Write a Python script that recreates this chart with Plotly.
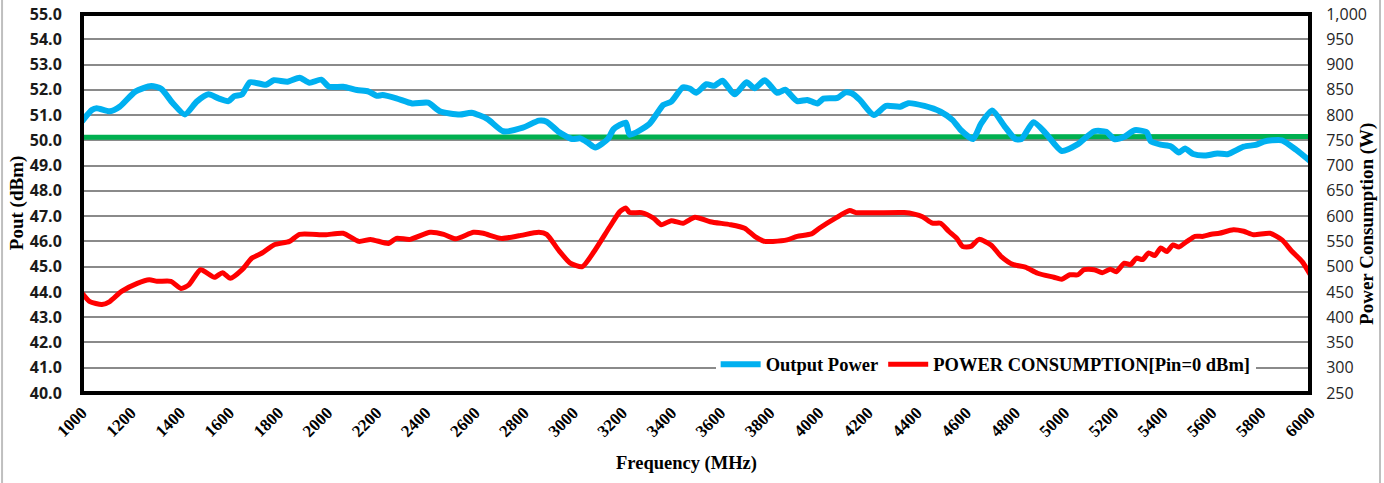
import plotly.graph_objects as go

# ---- data ----
freq_blue = [1000, 1040, 1060, 1113, 1153, 1217, 1282, 1322, 1370, 1419, 1467, 1515, 1556, 1596, 1620, 1652,
             1684, 1749, 1781, 1837, 1886, 1926, 1974, 2006, 2063, 2119, 2167, 2200, 2224, 2280, 2344, 2409,
             2457, 2538, 2586, 2650, 2715, 2795, 2860, 2892, 2940, 2996, 3029, 3061, 3090, 3141, 3165, 3214,
             3230, 3310, 3367, 3399, 3447, 3476, 3501, 3542, 3575, 3608, 3657, 3706, 3739, 3780, 3830, 3863,
             3912, 3953, 3994, 4019, 4076, 4109, 4134, 4167, 4224, 4274, 4331, 4364, 4430, 4496, 4545, 4578,
             4628, 4660, 4706, 4759, 4800, 4825, 4874, 4924, 4989, 5055, 5121, 5170, 5203, 5244, 5286, 5335,
             5351, 5392, 5434, 5466, 5491, 5524, 5573, 5623, 5664, 5730, 5779, 5812, 5845, 5886, 5944, 6000]
pout_dbm = [50.75, 51.20, 51.27, 51.15, 51.33, 51.93, 52.15, 52.04, 51.47, 51.02, 51.53, 51.82, 51.66, 51.55, 51.75, 51.82,
            52.30, 52.20, 52.38, 52.32, 52.48, 52.28, 52.40, 52.12, 52.12, 51.99, 51.93, 51.76, 51.79, 51.66, 51.46, 51.49,
            51.15, 51.02, 51.09, 50.85, 50.36, 50.50, 50.78, 50.74, 50.34, 50.05, 50.08, 49.90, 49.72, 50.05, 50.45, 50.70,
            50.22, 50.65, 51.40, 51.53, 52.10, 52.04, 51.88, 52.22, 52.16, 52.36, 51.82, 52.30, 52.06, 52.38, 51.88, 52.00,
            51.55, 51.60, 51.46, 51.65, 51.68, 51.90, 51.86, 51.60, 51.00, 51.36, 51.33, 51.47, 51.36, 51.13, 50.80, 50.41,
            50.05, 50.65, 51.18, 50.52, 50.05, 50.05, 50.72, 50.28, 49.58, 49.85, 50.36, 50.34, 50.05, 50.14, 50.40, 50.32,
            49.97, 49.83, 49.76, 49.52, 49.68, 49.46, 49.40, 49.48, 49.45, 49.75, 49.82, 49.95, 50.00, 50.00, 49.62, 49.18]

freq_red = [1000, 1032, 1081, 1113, 1161, 1225, 1274, 1306, 1362, 1403, 1435, 1483, 1539, 1572, 1604, 1652,
            1692, 1733, 1781, 1845, 1886, 1990, 2063, 2127, 2175, 2248, 2280, 2336, 2417, 2473, 2522, 2594,
            2634, 2707, 2779, 2860, 2892, 2940, 2988, 3037, 3085, 3149, 3190, 3214, 3230, 3278, 3327, 3359,
            3399, 3447, 3496, 3558, 3640, 3698, 3739, 3780, 3813, 3871, 3912, 3970, 4002, 4068, 4126, 4150,
            4348, 4389, 4422, 4463, 4496, 4529, 4562, 4586, 4619, 4652, 4701, 4743, 4792, 4841, 4891, 4957,
            4989, 5022, 5055, 5080, 5121, 5154, 5187, 5211, 5244, 5269, 5294, 5318, 5343, 5368, 5392, 5417,
            5442, 5466, 5499, 5532, 5565, 5598, 5631, 5688, 5730, 5771, 5837, 5886, 5927, 5968, 6000]
power_w = [448, 431, 425, 431, 451, 467, 474, 471, 471, 457, 464, 494, 479, 488, 477, 494,
           517, 527, 543, 550, 564, 563, 566, 550, 554, 546, 556, 554, 568, 564, 555, 568,
           566, 556, 561, 568, 564, 533, 507, 500, 530, 579, 609, 616, 607, 607, 596, 583,
           591, 586, 598, 589, 583, 576, 560, 550, 550, 553, 560, 565, 576, 596, 611, 607,
           607, 604, 599, 586, 586, 570, 556, 540, 540, 554, 543, 520, 504, 499, 487, 479,
           475, 484, 484, 494, 494, 488, 495, 490, 507, 504, 517, 514, 527, 522, 537, 530,
           543, 539, 550, 560, 560, 564, 566, 573, 570, 563, 566, 553, 530, 510, 485]

ref_freq = [1000, 6000]
ref_pout = [50.12, 50.15]

x_ticks = list(range(1000, 6001, 200))
left_ticks = [40 + i for i in range(16)]
left_labels = ["%.1f" % v for v in left_ticks]
right_ticks = list(range(250, 1001, 50))
right_labels = ["{:,}".format(v) for v in right_ticks]

# ---- figure ----
fig = go.Figure()
fig.add_trace(go.Scatter(x=ref_freq, y=ref_pout, mode="lines", showlegend=False,
                         line=dict(color="#00B050", width=5)))
fig.add_trace(go.Scatter(x=freq_blue, y=pout_dbm, mode="lines", name="Output Power",
                         line=dict(color="#00B0F0", width=6, shape="spline", smoothing=0.6)))
fig.add_trace(go.Scatter(x=freq_red, y=power_w, mode="lines", name="POWER CONSUMPTION[Pin=0 dBm]",
                         yaxis="y2", line=dict(color="#FF0000", width=5, shape="spline", smoothing=0.6)))

serif = "Liberation Serif"
fig.update_layout(
    width=1384, height=483,
    margin=dict(l=82, r=74, t=14, b=90, autoexpand=False),
    paper_bgcolor="white", plot_bgcolor="white",
    xaxis=dict(range=[1000, 6000], tickvals=x_ticks, tickangle=-45, showgrid=False, zeroline=False,
               automargin=False,
               ticks="outside", ticklen=2, tickcolor="rgba(0,0,0,0)",
               tickfont=dict(family=serif, size=17, color="black", weight="bold")),
    yaxis=dict(range=[40, 55], tickvals=left_ticks, ticktext=left_labels, showgrid=True,
               gridcolor="#8a8a8a", gridwidth=2, zeroline=False, automargin=False,
               ticks="outside", ticklen=16, tickcolor="rgba(0,0,0,0)",
               tickfont=dict(family="Open Sans", size=16, color="#1a1a1a", weight="bold")),
    yaxis2=dict(range=[250, 1000], tickvals=right_ticks, ticktext=right_labels, overlaying="y",
                side="right", showgrid=False, zeroline=False, automargin=False,
                ticks="outside", ticklen=12, tickcolor="rgba(0,0,0,0)",
                tickfont=dict(family="Open Sans", size=16, color="#262626")),
    legend=dict(orientation="h", x=0.516, y=0.125, xanchor="left", yanchor="top",
                bgcolor="white", font=dict(family=serif, size=18.5, color="black", weight="bold"),
                itemwidth=40, tracegroupgap=0),
    showlegend=True,
)

fig.add_shape(type="rect", xref="paper", yref="paper", x0=0, x1=1, y0=0, y1=1,
              line=dict(color="black", width=4), layer="above")
fig.add_shape(type="line", xref="paper", yref="paper", x0=-0.0651, x1=-0.0651, y0=-0.3, y1=1.1,
              line=dict(color="#bfbfbf", width=2))
fig.add_shape(type="line", xref="paper", yref="paper", x0=1.057, x1=1.057, y0=-0.3, y1=1.1,
              line=dict(color="#bfbfbf", width=2))

fig.add_annotation(text="Pout (dBm)", xref="paper", yref="paper", x=-0.0529, y=0.501,
                   textangle=-90, showarrow=False, xanchor="center", yanchor="middle",
                   font=dict(family=serif, size=19, color="black", weight="bold"))
fig.add_annotation(text="Power Consumption (W)", xref="paper", yref="paper", x=1.0464, y=0.446,
                   textangle=-90, showarrow=False, xanchor="center", yanchor="middle",
                   font=dict(family=serif, size=19, color="black", weight="bold"))
fig.add_annotation(text="Frequency (MHz)", xref="paper", yref="paper", x=0.4919, y=-0.1847,
                   showarrow=False, xanchor="center", yanchor="middle",
                   font=dict(family=serif, size=18.5, color="black", weight="bold"))

fig.write_html("out.html", config={"displayModeBar": False},
               post_script="document.body.style.margin='0';")
